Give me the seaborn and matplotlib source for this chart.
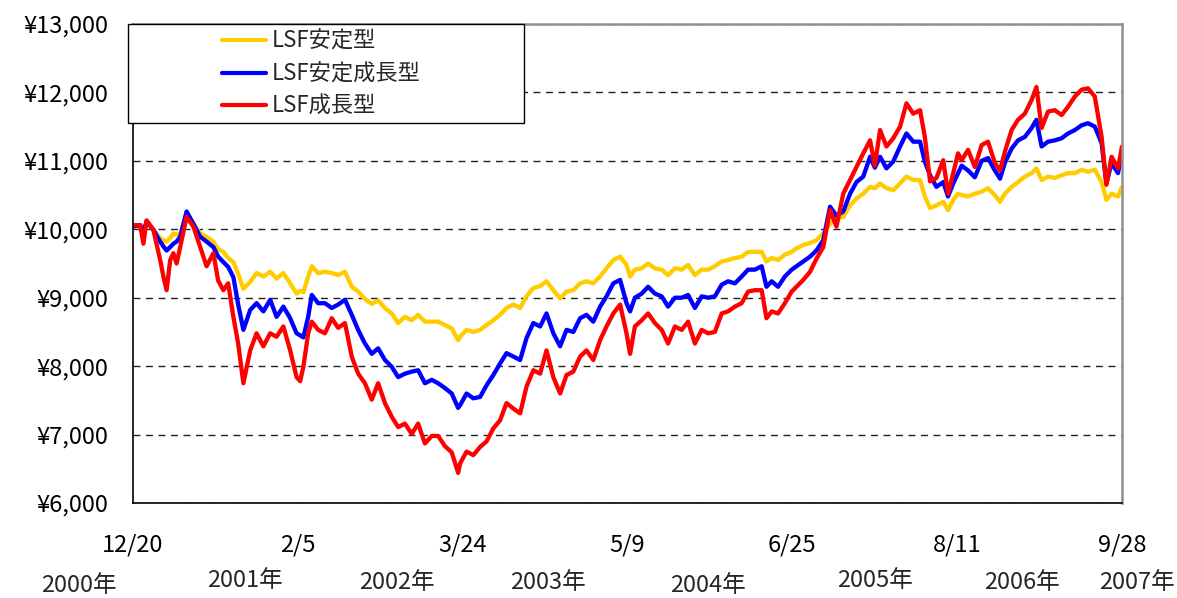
import matplotlib
matplotlib.use("Agg")
import matplotlib.pyplot as plt
from matplotlib.lines import Line2D
from matplotlib.patches import Rectangle
from matplotlib.ticker import FuncFormatter
import pandas as pd
import seaborn as sns

# days since 2000-12-20 (sample points)
start = pd.Timestamp("2000-12-20")
end = pd.Timestamp("2007-09-28")
day_offsets = [0, 18, 26, 34, 51, 68, 76, 84, 93, 101, 109, 118, 134, 151, 168, 184, 201, 213, 226, 238,
               251, 263, 276, 293, 309, 326, 343, 359, 376, 393, 409,
               418, 426, 438, 447, 463, 480, 497, 513, 530, 547, 563, 580, 597, 613, 630, 647, 663, 680,
               697, 713, 730, 747, 763, 780, 797, 813,
               818, 834, 851, 868, 884, 901, 918, 934, 951, 968, 984, 1001, 1018, 1034, 1051, 1068, 1084,
               1101, 1118, 1134, 1151, 1168, 1184, 1201, 1218, 1234,
               1243, 1255, 1272, 1288, 1305, 1322, 1338, 1355, 1372, 1388, 1405, 1422, 1438, 1455, 1472,
               1488, 1505, 1522, 1538, 1555, 1572, 1584, 1597, 1613, 1630, 1647,
               1659, 1676, 1693, 1709, 1726, 1743, 1759, 1776, 1793, 1809, 1826, 1843, 1855, 1868, 1884,
               1901, 1918, 1934, 1951, 1968, 1980, 1993, 2009, 2026, 2038, 2051, 2063,
               2072, 2088, 2105, 2122, 2138, 2155, 2168, 2180, 2197, 2213, 2230, 2247, 2259, 2272, 2288,
               2305, 2322, 2338, 2355, 2372, 2388, 2405, 2422, 2434, 2447, 2463, 2473]

stable = [10040, 10060, 9980, 10120, 9990, 9870, 9840, 9820, 9870, 9940, 9920, 9940, 10230, 10080, 9940,
          9890, 9820, 9710, 9670, 9580, 9520, 9350, 9130, 9230, 9360, 9310, 9380, 9280, 9360, 9210, 9060,
          9100, 9080, 9310, 9460, 9360, 9380, 9360, 9330, 9380, 9160, 9090, 8980, 8910, 8960, 8850, 8770,
          8630, 8720, 8670, 8750, 8650, 8650, 8650, 8600, 8550, 8380,
          8430, 8530, 8500, 8530, 8600, 8670, 8750, 8850, 8900, 8850, 9020, 9140, 9170, 9240, 9110, 8990,
          9090, 9110, 9210, 9240, 9210, 9310, 9430, 9550, 9600, 9480,
          9310, 9410, 9430, 9500, 9430, 9410, 9330, 9430, 9410, 9480, 9330, 9410, 9410, 9460, 9530, 9550,
          9580, 9600, 9670, 9670, 9670, 9530, 9580, 9550, 9630, 9670,
          9720, 9770, 9800, 9840, 9940, 10080, 10160, 10180, 10350, 10450, 10520, 10620, 10600, 10670,
          10600, 10570, 10670, 10770, 10720, 10720, 10480, 10310, 10350, 10400, 10280, 10430, 10520,
          10500, 10480, 10520, 10550, 10600, 10500, 10400, 10520, 10620, 10690, 10770, 10820, 10890,
          10720, 10770, 10750, 10790, 10820, 10820, 10870, 10840, 10870, 10690, 10430, 10520, 10480, 10620]

stable_growth = [10040, 10060, 9950, 10120, 9990, 9820, 9750, 9690, 9740, 9790, 9820, 9890, 10260, 10080,
                 9890, 9820, 9740, 9600, 9520, 9450, 9300, 8900, 8530, 8820, 8920, 8800, 8970, 8720, 8870,
                 8700, 8480,
                 8450, 8420, 8720, 9040, 8920, 8920, 8850, 8900, 8970, 8750, 8530, 8330, 8180, 8260, 8090,
                 7990, 7840, 7890, 7920, 7940, 7750, 7800, 7750, 7680, 7600, 7390,
                 7430, 7600, 7530, 7550, 7720, 7870, 8040, 8190, 8140, 8090, 8410, 8630, 8580, 8770, 8480,
                 8290, 8530, 8500, 8700, 8750, 8650, 8870, 9020, 9210, 9260, 8920,
                 8800, 9000, 9060, 9160, 9060, 9020, 8870, 9000, 9000, 9040, 8850, 9020, 9000, 9020, 9190,
                 9240, 9210, 9310, 9410, 9410, 9460, 9160, 9240, 9160, 9310, 9410,
                 9460, 9530, 9600, 9690, 9840, 10330, 10200, 10260, 10520, 10690, 10770, 11060, 10900,
                 11060, 10890, 10990, 11210, 11400, 11280, 11280, 10990, 10790, 10620, 10690, 10480, 10670,
                 10820,
                 10930, 10860, 10760, 11000, 11040, 10860, 10740, 10970, 11180, 11300, 11350, 11480, 11600,
                 11210, 11280, 11300, 11330, 11400, 11450, 11520, 11550, 11500, 11260, 10670, 10970, 10820,
                 11140]

growth = [10060, 10060, 9790, 10130, 9990, 9550, 9310, 9110, 9550, 9650, 9500, 9740, 10180, 10040, 9740,
          9460, 9650, 9250, 9110, 9210, 8720, 8330, 7750, 8230, 8480, 8290, 8480, 8430, 8580, 8230, 7840,
          7780, 7990, 8480, 8650, 8530, 8480, 8700, 8560, 8630, 8140, 7890, 7750, 7510, 7750, 7460, 7260,
          7110, 7160, 7010, 7160, 6870, 6980, 6980, 6830, 6740, 6440,
          6580, 6750, 6700, 6820, 6900, 7090, 7210, 7460, 7380, 7310, 7700, 7940, 7890, 8230, 7840, 7600,
          7870, 7920, 8140, 8230, 8090, 8380, 8580, 8770, 8900, 8480,
          8180, 8580, 8670, 8770, 8630, 8530, 8330, 8580, 8530, 8650, 8330, 8530, 8480, 8500, 8770, 8800,
          8870, 8920, 9090, 9110, 9110, 8700, 8800, 8770, 8920, 9090,
          9160, 9260, 9380, 9570, 9740, 10280, 10040, 10520, 10720, 10910, 11110, 11300, 10930, 11450,
          11210, 11330, 11500, 11840, 11690, 11740, 11350, 10700, 10750, 11010, 10520, 10820, 11110,
          11010, 11160, 10910, 11230, 11280, 10970, 10860, 11130, 11450, 11600, 11690, 11890, 12080,
          11480, 11720, 11740, 11670, 11790, 11940, 12040, 12060, 11940, 11350, 10650, 11060, 10890, 11210]

fund_names = ["LSF安定型", "LSF安定成長型", "LSF成長型"]
fund_colors = ["#FFCC00", "#0000FF", "#FF0000"]

tick_dates = ["2000-12-20", "2002-02-05", "2003-03-24", "2004-05-09", "2005-06-25", "2006-08-11", "2007-09-28"]
tick_labels = ["12/20", "2/5", "3/24", "5/9", "6/25", "8/11", "9/28"]
y_ticks = [6000, 7000, 8000, 9000, 10000, 11000, 12000, 13000]

year_labels = ["2000年", "2001年", "2002年", "2003年", "2004年", "2005年", "2006年", "2007年"]
# where the year captions sit (axes fraction)
year_pos = [(-0.0546, -0.173), (0.1132, -0.161), (0.2669, -0.165), (0.4196, -0.167),
            (0.5814, -0.173), (0.7503, -0.161), (0.8989, -0.165), (1.0152, -0.167)]

# long-form table for seaborn
dates = [start + pd.Timedelta(days=d) for d in day_offsets]
frames = []
for name, vals in zip(fund_names, [stable, stable_growth, growth]):
    frames.append(pd.DataFrame({"date": dates, "value": vals, "fund": name}))
df = pd.concat(frames, ignore_index=True)

sns.set_style("white")
plt.rcParams['font.family'] = ['Noto Sans CJK JP', 'DejaVu Sans']

fig, ax = plt.subplots(figsize=(11.77, 5.98), dpi=100)
fig.subplots_adjust(left=133/1177, right=1122/1177, top=1-24/598, bottom=1-503/598)

sns.lineplot(data=df, x="date", y="value", hue="fund", hue_order=fund_names,
             palette=dict(zip(fund_names, fund_colors)), linewidth=3.1,
             estimator=None, legend=False, ax=ax)

ax.set_xlim(start, end)
ax.set_ylim(6000, 13000)
ax.set_yticks(y_ticks)
ax.yaxis.set_major_formatter(FuncFormatter(lambda v, p: f"¥{int(v):,}"))
ax.set_xticks(pd.to_datetime(tick_dates))
ax.set_xticklabels(tick_labels)
ax.set_xlabel("")
ax.set_ylabel("")
ax.tick_params(axis="y", direction="in", length=6, width=1, pad=18, labelsize=17, colors="black")
ax.tick_params(axis="x", direction="in", length=8, width=1, pad=22, labelsize=17, colors="black")
ax.yaxis.grid(True, linestyle=(0, (5, 4)), color="#222222", linewidth=1)
ax.set_axisbelow(True)

for side in ["left", "bottom"]:
    ax.spines[side].set_color("black")
    ax.spines[side].set_linewidth(1.2)
for side in ["top", "right"]:
    ax.spines[side].set_color("#909090")
    ax.spines[side].set_linewidth(1.8)

for lab, (xp, yp) in zip(year_labels, year_pos):
    ax.text(xp, yp, lab, transform=ax.transAxes, ha="center", va="center", fontsize=17)

# legend box
ax.add_patch(Rectangle((128/1177, 1-123/598), 396/1177, 99/598, transform=fig.transFigure,
                       facecolor="white", edgecolor="black", linewidth=1, zorder=4, clip_on=False))
handles = [Line2D([], [], color=c, linewidth=3) for c in fund_colors]
leg = ax.legend(handles, fund_names, loc="upper left", bbox_to_anchor=(222/1177, 1-30/598),
                bbox_transform=fig.transFigure, frameon=False, fontsize=16, handlelength=2.0,
                handletextpad=0.25, labelspacing=0.42, borderpad=0, borderaxespad=0)
leg.set_zorder(5)

fig.savefig("out.png", dpi=100)
